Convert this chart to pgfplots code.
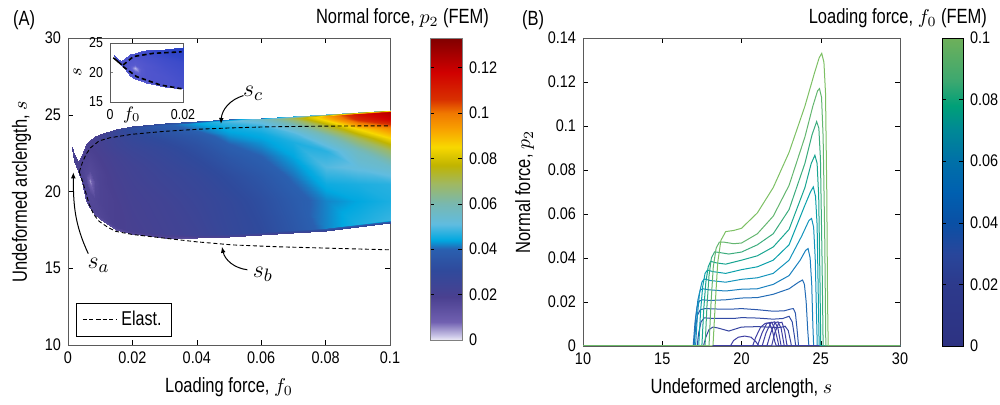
\documentclass[border=0pt]{standalone}
\usepackage{pgfplots}
\pgfplotsset{compat=1.18}
\usepackage{pgfplotstable}
\usepackage{fontspec}
\usetikzlibrary{arrows.meta}
\setmainfont{Liberation Sans}[FakeStretch=0.8]
\newfontfamily\tickfont{Liberation Sans}[FakeStretch=0.86]

\definecolor{c10}{RGB}{125,192,100}
\definecolor{c09}{RGB}{100,182,112}
\definecolor{c08}{RGB}{60,172,125}
\definecolor{c07}{RGB}{25,165,145}
\definecolor{c06}{RGB}{10,160,170}
\definecolor{c05}{RGB}{20,148,188}
\definecolor{c04}{RGB}{25,128,190}
\definecolor{c03}{RGB}{35,108,182}
\definecolor{c02}{RGB}{45,88,172}
\definecolor{c015}{RGB}{50,75,165}
\definecolor{c01}{RGB}{55,68,160}
\definecolor{cb}{RGB}{62,62,162}
\definecolor{axgray}{RGB}{90,90,90}

\tikzset{
 tickfnt/.style={font=\tickfont\fontsize{8.4}{9}\selectfont},
 lblfnt/.style={font=\fontsize{10.3}{12}\selectfont},
}
\pgfplotsset{
 scaled ticks=false,
 colormap={heat}{rgb255(0pt)=(236,234,246); rgb255(2pt)=(200,195,230); rgb255(8pt)=(112,96,176); rgb255(19pt)=(74,64,144); rgb255(31pt)=(47,74,156); rgb255(40pt)=(42,96,176); rgb255(44pt)=(0,168,224); rgb255(51pt)=(96,188,224); rgb255(60pt)=(120,184,176); rgb255(69pt)=(160,184,96); rgb255(77pt)=(192,180,0); rgb255(85pt)=(248,216,0); rgb255(93pt)=(248,160,0); rgb255(100pt)=(240,120,0); rgb255(106pt)=(216,48,0); rgb255(118pt)=(208,0,0); rgb255(133pt)=(128,0,0)},
 colormap={fg}{rgb255(0pt)=(45,50,130); rgb255(20pt)=(45,58,140); rgb255(30pt)=(40,70,155); rgb255(40pt)=(10,80,165); rgb255(50pt)=(0,96,176); rgb255(60pt)=(0,112,168); rgb255(70pt)=(0,136,150); rgb255(78pt)=(0,160,120); rgb255(86pt)=(60,168,112); rgb255(100pt)=(110,176,90)},
 colormap={insetmap}{rgb255(0pt)=(235,235,250); rgb255(5pt)=(180,180,235); rgb255(12pt)=(100,100,210); rgb255(18pt)=(80,85,205); rgb255(25pt)=(50,70,200); rgb255(35pt)=(30,60,190)},
}

\pgfplotstableread{
f s p
0.0011 22.80 0.020
0.0011 22.81 0.020
0.0011 22.82 0.020
0.0011 22.83 0.020
0.0011 22.84 0.020
0.0011 22.85 0.020
0.0011 22.86 0.020
0.0011 22.87 0.020
0.0011 22.88 0.020
0.0011 22.89 0.020
0.0011 22.90 0.020
0.002 22.00 0.019
0.002 22.05 0.020
0.002 22.09 0.020
0.002 22.14 0.020
0.002 22.18 0.020
0.002 22.23 0.020
0.002 22.27 0.020
0.002 22.32 0.020
0.002 22.36 0.020
0.002 22.41 0.020
0.002 22.45 0.019
0.003 21.35 0.017
0.003 21.41 0.019
0.003 21.47 0.019
0.003 21.53 0.019
0.003 21.59 0.019
0.003 21.65 0.019
0.003 21.71 0.019
0.003 21.77 0.019
0.003 21.83 0.019
0.003 21.89 0.019
0.003 21.95 0.017
0.0042 20.60 0.015
0.0042 20.80 0.018
0.0042 21.10 0.018
0.0042 21.40 0.018
0.0042 21.65 0.018
0.0042 21.85 0.018
0.0042 22.00 0.018
0.0042 22.15 0.019
0.0042 22.25 0.019
0.0042 22.32 0.019
0.0042 22.40 0.017
0.0056 19.36 0.015
0.0056 19.56 0.017
0.0056 20.00 0.017
0.0056 20.60 0.016
0.0056 21.10 0.016
0.0056 21.60 0.017
0.0056 22.10 0.018
0.0056 22.50 0.019
0.0056 22.85 0.019
0.0056 22.98 0.019
0.0056 23.10 0.017
0.0068 18.90 0.015
0.0068 19.10 0.017
0.0068 19.90 0.016
0.0068 20.70 0.005
0.0068 21.40 0.016
0.0068 21.90 0.017
0.0068 22.40 0.018
0.0068 22.80 0.019
0.0068 23.10 0.020
0.0068 23.23 0.020
0.0068 23.35 0.017
0.0085 18.50 0.015
0.0085 18.70 0.017
0.0085 19.50 0.017
0.0085 20.60 0.016
0.0085 21.30 0.017
0.0085 21.90 0.018
0.0085 22.50 0.019
0.0085 22.95 0.020
0.0085 23.35 0.021
0.0085 23.48 0.021
0.0085 23.60 0.018
0.01 18.20 0.014
0.01 18.40 0.017
0.01 19.40 0.018
0.01 20.50 0.018
0.01 21.30 0.018
0.01 22.00 0.019
0.01 22.60 0.020
0.01 23.10 0.021
0.01 23.50 0.022
0.01 23.63 0.022
0.01 23.75 0.019
0.015 17.50 0.014
0.015 17.70 0.019
0.015 19.20 0.019
0.015 20.50 0.020
0.015 21.50 0.021
0.015 22.30 0.022
0.015 22.90 0.024
0.015 23.40 0.025
0.015 23.80 0.027
0.015 23.93 0.027
0.015 24.05 0.022
0.02 17.25 0.014
0.02 17.45 0.020
0.02 19.20 0.021
0.02 20.60 0.022
0.02 21.70 0.023
0.02 22.50 0.025
0.02 23.10 0.027
0.02 23.60 0.029
0.02 24.00 0.032
0.02 24.15 0.033
0.02 24.27 0.026
0.03 17.00 0.015
0.03 17.20 0.022
0.03 19.30 0.023
0.03 20.80 0.025
0.03 21.90 0.027
0.03 22.80 0.029
0.03 23.40 0.032
0.03 23.85 0.035
0.03 24.20 0.038
0.03 24.33 0.039
0.03 24.45 0.030
0.04 16.95 0.016
0.04 17.15 0.024
0.04 19.40 0.026
0.04 21.00 0.028
0.04 22.10 0.031
0.04 23.00 0.034
0.04 23.60 0.037
0.04 24.05 0.041
0.04 24.35 0.043
0.04 24.48 0.044
0.04 24.60 0.035
0.05 17.02 0.018
0.05 17.22 0.028
0.05 19.40 0.029
0.05 21.00 0.032
0.05 22.20 0.036
0.05 23.10 0.040
0.05 23.70 0.043
0.05 24.15 0.045
0.05 24.45 0.048
0.05 24.60 0.050
0.05 24.72 0.038
0.06 17.15 0.020
0.06 17.35 0.031
0.06 19.50 0.033
0.06 21.00 0.036
0.06 22.30 0.040
0.06 23.20 0.043
0.06 23.80 0.045
0.06 24.25 0.048
0.06 24.55 0.052
0.06 24.70 0.056
0.06 24.82 0.040
0.07 17.30 0.022
0.07 17.50 0.036
0.07 19.50 0.038
0.07 21.00 0.041
0.07 22.30 0.044
0.07 23.20 0.046
0.07 23.80 0.050
0.07 24.30 0.058
0.07 24.65 0.066
0.07 24.81 0.070
0.07 24.93 0.045
0.08 17.45 0.024
0.08 17.65 0.042
0.08 19.40 0.042
0.08 20.50 0.045
0.08 21.60 0.050
0.08 22.65 0.047
0.08 23.60 0.058
0.08 24.30 0.074
0.08 24.75 0.088
0.08 24.91 0.092
0.08 25.03 0.050
0.09 17.68 0.026
0.09 17.88 0.046
0.09 19.40 0.044
0.09 20.50 0.046
0.09 21.60 0.052
0.09 22.65 0.057
0.09 23.50 0.070
0.09 24.10 0.085
0.09 24.70 0.108
0.09 25.03 0.114
0.09 25.15 0.060
0.1 17.94 0.028
0.1 18.14 0.048
0.1 19.40 0.046
0.1 20.50 0.047
0.1 21.60 0.055
0.1 22.65 0.068
0.1 23.50 0.085
0.1 24.15 0.097
0.1 24.70 0.118
0.1 25.18 0.124
0.1 25.30 0.060
}\heat

\begin{document}
\begin{tikzpicture}
\useasboundingbox (0,0) rectangle (500pt,202.5pt);

% ---------------- Panel A ----------------
\begin{axis}[
  at={(34pt,30pt)}, anchor=south west, scale only axis,
  width=161pt, height=153.5pt,
  xmin=0, xmax=0.1, ymin=10, ymax=30,
  xtick={0,0.02,0.04,0.06,0.08,0.1},
  xticklabels={0,0.02,0.04,0.06,0.08,0.1},
  ytick={10,15,20,25,30}, yticklabels={10,15,20,25,30},
  tick label style={tickfnt}, label style={lblfnt},
  xlabel={Loading force, $f_0$}, ylabel={Undeformed arclength, $s$},
  axis line style={axgray}, major tick length=2.5pt, tick style={black},
  colormap name=heat, point meta min=0, point meta max=0.133,
  colorbar, colorbar/width=16pt,
  colorbar style={at={(parent axis.north east)}, anchor=north west, xshift=11.5pt,
     height=151pt, ytick={0,0.02,0.04,0.06,0.08,0.1,0.12},
     yticklabels={0,0.02,0.04,0.06,0.08,0.1,0.12},
     tick label style={tickfnt}, axis line style={gray}, major tick length=2pt},
  legend style={at={(0.025,0.026)}, anchor=south west, draw=black, font=\fontsize{10}{11}\selectfont,
     inner xsep=3pt, inner ysep=2pt},
  legend cell align=left,
]
\addplot[surf, shader=interp, mesh/cols=11, point meta=\thisrow{p}, forget plot] table[x=f, y=s] {\heat};
\addplot[black, line width=0.45pt, dash pattern=on 2pt off 1.3pt] coordinates {
 (0.0035,21.28)(0.0045,21.9)(0.0056,22.42)(0.007,22.85)(0.0097,23.3)(0.013,23.5)(0.02,23.73)(0.03,23.92)(0.0408,24.06)(0.05,24.14)(0.0615,24.21)(0.08,24.26)(0.1,24.28)};
\addlegendentry{Elast.}
\addplot[black, line width=0.45pt, dash pattern=on 2pt off 1.3pt, forget plot] coordinates {
 (0.0035,21.28)(0.0043,20.8)(0.0051,20.24)(0.0066,19.15)(0.008,18.5)(0.0097,18.05)(0.0125,17.65)(0.0149,17.4)(0.02,17.2)(0.0304,16.95)(0.04,16.72)(0.0511,16.52)(0.065,16.4)(0.0822,16.3)(0.1,16.2)};
\node[font=\fontsize{13}{13}\selectfont] at (axis cs:0.0575,26.4) {$s_c$};
\draw[-{Latex[length=3pt,width=2.4pt]}, line width=0.5pt] (axis cs:0.0545,26.25) to[bend right=35] (axis cs:0.0475,24.4);
\node[font=\fontsize{13}{13}\selectfont] at (axis cs:0.0605,14.6) {$s_b$};
\draw[-{Latex[length=3pt,width=2.4pt]}, line width=0.5pt] (axis cs:0.0557,14.9) to[bend left=35] (axis cs:0.0478,16.4);
\node[font=\fontsize{13}{13}\selectfont] at (axis cs:0.0095,15.2) {$s_a$};
\draw[-{Latex[length=3pt,width=2.4pt]}, line width=0.5pt] (axis cs:0.0063,15.95) to[out=115,in=-90] (axis cs:0.00165,21.25);
\end{axis}

% inset
\begin{axis}[
  at={(55pt,151.5pt)}, anchor=south west, scale only axis,
  width=36.5pt, height=29.5pt,
  xmin=0, xmax=0.02, ymin=15, ymax=25,
  xtick={0,0.02}, xticklabels={0,0.02}, ytick={15,20,25}, yticklabels={15,20,25},
  tick label style={font=\tickfont\fontsize{7.2}{8}\selectfont},
  xtick pos=bottom, ytick pos=left,
  major tick length=1.5pt, axis line style={axgray},
  axis background/.style={fill=white},
  xlabel={$f_0$}, ylabel={$s$},
  xlabel style={at={(axis description cs:0.3,0)}, anchor=north, yshift=1pt, font=\fontsize{9}{9}\selectfont},
  ylabel style={font=\fontsize{9}{9}\selectfont, yshift=-3pt},
  colormap name=insetmap, point meta min=0, point meta max=0.035,
]
\addplot[surf, shader=interp, mesh/cols=11, point meta=\thisrow{p}] table[x=f, y=s] {\heat};
\addplot[black, line width=0.8pt] coordinates {(0.0009,22.5)(0.0032,21.3)};
\addplot[black, line width=0.8pt, dash pattern=on 2.2pt off 1.5pt] coordinates {
 (0.0036,21.27)(0.0064,22.7)(0.0119,23.25)(0.0196,23.5)};
\addplot[black, line width=0.8pt, dash pattern=on 2.2pt off 1.5pt] coordinates {
 (0.0036,21.0)(0.0073,19.3)(0.0137,17.9)(0.019,17.3)(0.02,17.25)};
\end{axis}

\node[anchor=base west, lblfnt] at (3pt,189.5pt) {(A)};
\node[anchor=base east, lblfnt] at (248pt,190.5pt) {Normal force, $p_2$ (FEM)};

% ---------------- Panel B ----------------
\begin{axis}[
  at={(291.5pt,29.5pt)}, anchor=south west, scale only axis,
  width=158.5pt, height=154pt,
  xmin=10, xmax=30, ymin=0, ymax=0.14,
  xtick={10,15,20,25,30}, xticklabels={10,15,20,25,30},
  ytick={0,0.02,0.04,0.06,0.08,0.1,0.12,0.14},
  yticklabels={0,0.02,0.04,0.06,0.08,0.1,0.12,0.14},
  tick label style={tickfnt}, label style={lblfnt},
  xlabel={Undeformed arclength, $s$}, ylabel={Normal force, $p_2$},
  axis line style={axgray}, major tick length=2.5pt, tick style={black},
  colormap name=fg, point meta min=0, point meta max=0.1,
  colorbar, colorbar/width=10.5pt,
  colorbar style={at={(parent axis.north east)}, anchor=north west, xshift=12.5pt,
     height=154pt, ytick={0,0.02,0.04,0.06,0.08,0.1},
     yticklabels={0,0.02,0.04,0.06,0.08,0.1},
     tick label style={tickfnt}, axis line style={black}, major tick length=2pt},
  every axis plot/.append style={line width=0.5pt},
]
\addplot[c01] coordinates {(10,0)(17.6,0)(17.75,0.004)(17.95,0.0075)(18.2,0.0086)(18.5,0.0082)(19.2,0.0068)(20,0.0086)(21,0.0088)(22,0.0085)(22.5,0.0085)(22.75,0.009)(22.95,0.007)(23.1,0.002)(23.15,0)(30,0)};
\addplot[c015] coordinates {(10,0)(17.2,0)(17.3,0.006)(17.45,0.011)(17.65,0.0128)(18.2,0.0125)(19.5,0.0125)(20,0.0129)(21,0.0127)(22,0.0122)(22.6,0.0125)(23.0,0.0135)(23.2,0.011)(23.35,0.004)(23.42,0)(30,0)};
\addplot[c02] coordinates {(10,0)(17.0,0)(17.1,0.008)(17.22,0.014)(17.4,0.0165)(17.7,0.017)(18.5,0.0168)(19.5,0.0168)(20,0.017)(21,0.0165)(22,0.0158)(22.7,0.016)(23.1,0.0168)(23.27,0.017)(23.4,0.015)(23.5,0.008)(23.6,0)(30,0)};
\addplot[c03] coordinates {(10,0)(16.95,0)(17.07,0.011)(17.2,0.018)(17.35,0.0205)(17.55,0.021)(18,0.0207)(19,0.021)(20,0.0218)(21,0.022)(22,0.0235)(23,0.026)(23.6,0.029)(23.85,0.030)(23.97,0.028)(24.08,0.02)(24.18,0.007)(24.25,0)(30,0)};
\addplot[c04] coordinates {(10,0)(17.0,0)(17.12,0.013)(17.25,0.021)(17.4,0.0255)(17.55,0.026)(18,0.0255)(19,0.025)(20,0.0258)(21,0.026)(22,0.028)(23,0.032)(23.7,0.039)(24.05,0.0435)(24.2,0.0443)(24.33,0.040)(24.43,0.028)(24.5,0.01)(24.55,0)(30,0)};
\addplot[c05] coordinates {(10,0)(17.1,0)(17.22,0.014)(17.35,0.024)(17.5,0.029)(17.65,0.0305)(18,0.0298)(19,0.029)(20,0.0303)(21,0.031)(22,0.033)(23,0.039)(23.8,0.050)(24.25,0.057)(24.42,0.058)(24.55,0.054)(24.65,0.04)(24.73,0.015)(24.78,0)(30,0)};
\addplot[c06] coordinates {(10,0)(17.3,0)(17.42,0.016)(17.55,0.027)(17.7,0.033)(17.85,0.0345)(18.2,0.0338)(19,0.033)(20,0.0347)(21,0.036)(22,0.039)(23,0.046)(24,0.064)(24.35,0.070)(24.53,0.0723)(24.67,0.068)(24.77,0.055)(24.85,0.02)(24.9,0)(30,0)};
\addplot[c07] coordinates {(10,0)(17.5,0)(17.62,0.017)(17.75,0.029)(17.9,0.036)(18.05,0.0385)(18.4,0.0378)(19,0.0372)(20,0.039)(21,0.041)(22,0.045)(23,0.053)(24,0.072)(24.4,0.083)(24.63,0.0867)(24.77,0.083)(24.87,0.068)(24.95,0.03)(25.0,0)(30,0)};
\addplot[c08] coordinates {(10,0)(17.7,0)(17.82,0.018)(17.95,0.032)(18.1,0.040)(18.3,0.0428)(18.6,0.0425)(19.2,0.0418)(20,0.0427)(21,0.046)(22,0.051)(23,0.062)(24,0.083)(24.45,0.096)(24.74,0.102)(24.88,0.099)(24.98,0.085)(25.08,0.04)(25.15,0)(30,0)};
\addplot[c09] coordinates {(10,0)(17.95,0)(18.08,0.02)(18.22,0.036)(18.4,0.0445)(18.6,0.0472)(18.9,0.0472)(19.5,0.0465)(20,0.0468)(21,0.051)(22,0.059)(23,0.073)(24,0.095)(24.5,0.109)(24.8,0.116)(24.92,0.117)(25.05,0.113)(25.15,0.095)(25.25,0.05)(25.32,0)(30,0)};
\addplot[c10] coordinates {(10,0)(18.2,0)(18.35,0.02)(18.5,0.038)(18.7,0.048)(19.0,0.052)(19.5,0.0525)(20,0.0535)(21,0.0605)(22,0.072)(23,0.088)(24,0.109)(24.6,0.124)(24.9,0.131)(25.06,0.133)(25.2,0.129)(25.3,0.115)(25.38,0.07)(25.43,0.02)(25.47,0)(30,0)};
\addplot[cb] coordinates {(18.2,0)(19.3,0)(19.5,0.0025)(19.8,0.004)(20.2,0.0045)(20.6,0.004)(20.9,0.002)(21.1,0)(24.9,0)};
\addplot[cb] coordinates {(18.2,0)(20.7,0)(20.9,0.004)(21.2,0.0085)(21.5,0.0103)(21.75,0.0105)(21.95,0.007)(22.1,0.002)(22.2,0)(24.9,0)};
\addplot[cb] coordinates {(18.2,0)(21.0,0)(21.3,0.006)(21.6,0.0103)(21.9,0.0108)(22.1,0.008)(22.3,0.002)(22.35,0)(24.9,0)};
\addplot[cb] coordinates {(18.2,0)(21.3,0)(21.55,0.006)(21.85,0.0105)(22.1,0.011)(22.3,0.008)(22.45,0.002)(22.5,0)(24.9,0)};
\addplot[cb] coordinates {(18.2,0)(21.6,0)(21.85,0.006)(22.1,0.0105)(22.3,0.011)(22.5,0.008)(22.65,0.002)(22.7,0)(24.9,0)};
\addplot[cb] coordinates {(18.2,0)(21.9,0)(22.1,0.006)(22.35,0.0105)(22.55,0.0108)(22.72,0.007)(22.85,0.001)(22.9,0)(24.9,0)};
\end{axis}

\node[anchor=base west, lblfnt] at (257.5pt,189.5pt) {(B)};
\node[anchor=base east, lblfnt] at (497pt,190.5pt) {Loading force, $f_0$ (FEM)};
\end{tikzpicture}
\end{document}
